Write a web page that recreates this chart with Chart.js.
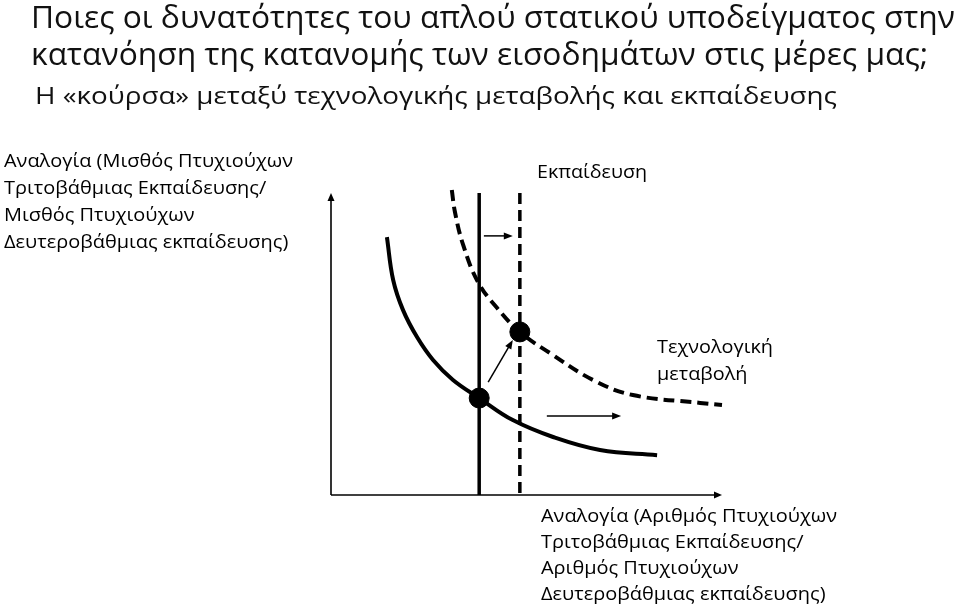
<!DOCTYPE html>
<html lang="el">
<head>
<meta charset="utf-8">
<title>Τεχνολογική μεταβολή και εκπαίδευση</title>
<script src="https://cdn.jsdelivr.net/npm/chart.js@4.4.1/dist/chart.umd.min.js"></script>
<style>
  html, body { margin: 0; padding: 0; background: #fff; }
  #wrap { width: 960px; height: 610px; position: relative; }
</style>
</head>
<body>
<div id="wrap"><canvas id="race" width="960" height="610"></canvas></div>
<script>
// --- texts ---
const TITLE_LINES = [
  'Ποιες οι δυνατότητες του απλού στατικού υποδείγματος στην',
  'κατανόηση της κατανομής των εισοδημάτων στις μέρες μας;'
];
const SUBTITLE = 'Η «κούρσα» μεταξύ τεχνολογικής μεταβολής και εκπαίδευσης';
const Y_LABEL = [
  'Αναλογία (Μισθός Πτυχιούχων',
  'Τριτοβάθμιας Εκπαίδευσης/',
  'Μισθός Πτυχιούχων',
  'Δευτεροβάθμιας εκπαίδευσης)'
];
const X_LABEL = [
  'Αναλογία (Αριθμός Πτυχιούχων',
  'Τριτοβάθμιας Εκπαίδευσης/',
  'Αριθμός Πτυχιούχων',
  'Δευτεροβάθμιας εκπαίδευσης)'
];
const SUPPLY_LABEL = ['Εκπαίδευση'];
const TECH_LABEL = ['Τεχνολογική', 'μεταβολή'];

// --- data (axis units 0..100) ---
const demandX     = [14.3, 15.9, 18.4, 22.0, 26.1, 31.2, 37.9, 46.5, 56.8, 68.8, 83.4];
const demandY     = [85.4, 71.2, 61.3, 52.3, 44.7, 38.1, 32.1, 24.8, 19.2, 14.9, 13.2];
const demandNewX  = [30.9, 31.7, 33.8, 37.6, 42.5, 48.3, 56.0, 67.0, 77.2, 94.4, 100];
const demandNewY  = [101, 93.7, 82.8, 70.5, 61.9, 54.0, 47.0, 38.1, 33.1, 30.5, 29.8];
const supplyX     = 37.9;
const supplyY     = [0, 100];
const supplyNewX  = 48.3;
const supplyNewY  = [0.7, 101.3];
const eqX         = [37.9, 48.3];
const eqY         = [32.1, 54.0];
// shift arrows: [x1, y1, x2, y2]
const shiftArrows = [
  [39.1, 85.8, 46.5, 85.8],
  [40.2, 37.4, 46.5, 51.3],
  [55.2, 26.2, 74.2, 26.2]
];

const pts = (xs, ys) => xs.map((x, i) => ({ x, y: ys[i] }));
const vline = (x, ys) => ys.map(y => ({ x, y }));

function arrowHead(ctx, x1, y1, x2, y2, len, half) {
  const a = Math.atan2(y2 - y1, x2 - x1);
  ctx.beginPath();
  ctx.moveTo(x2, y2);
  ctx.lineTo(x2 - len * Math.cos(a) + half * Math.sin(a), y2 - len * Math.sin(a) - half * Math.cos(a));
  ctx.lineTo(x2 - len * Math.cos(a) - half * Math.sin(a), y2 - len * Math.sin(a) + half * Math.cos(a));
  ctx.closePath();
  ctx.fill();
}

function arrow(ctx, x1, y1, x2, y2, width, len, half) {
  const a = Math.atan2(y2 - y1, x2 - x1);
  ctx.lineWidth = width;
  ctx.beginPath();
  ctx.moveTo(x1, y1);
  ctx.lineTo(x2 - (len - 1) * Math.cos(a), y2 - (len - 1) * Math.sin(a));
  ctx.stroke();
  arrowHead(ctx, x1, y1, x2, y2, len, half);
}

// text block squeezed horizontally to the width of the original
function fitText(ctx, lines, x, y0, step, size, width) {
  ctx.font = size + 'px "Open Sans", "Noto Sans", sans-serif';
  const w = Math.max(...lines.map(l => ctx.measureText(l).width));
  const k = width / w;
  lines.forEach((l, i) => {
    ctx.save();
    ctx.translate(x, y0 + i * step);
    ctx.scale(k, 1);
    ctx.fillText(l, 0, 0);
    ctx.restore();
  });
}

const diagramPlugin = {
  id: 'diagram',
  beforeDatasetsDraw(chart) {
    const { ctx, scales: { x, y } } = chart;
    ctx.save();
    ctx.strokeStyle = '#000';
    ctx.fillStyle = '#000';
    const x0 = x.getPixelForValue(0), y0 = y.getPixelForValue(0);
    arrow(ctx, x0, y0, x0, y.getPixelForValue(100), 1.6, 8, 3.5);
    arrow(ctx, x0, y0, x.getPixelForValue(100), y0, 1.6, 8, 3.5);
    ctx.restore();
  },
  afterDraw(chart) {
    const { ctx, scales: { x, y } } = chart;
    ctx.save();
    ctx.strokeStyle = '#000';
    ctx.fillStyle = '#000';
    shiftArrows.forEach(a => {
      arrow(ctx, x.getPixelForValue(a[0]), y.getPixelForValue(a[1]),
                 x.getPixelForValue(a[2]), y.getPixelForValue(a[3]), 1.5, 9, 3.5);
    });

    ctx.textBaseline = 'alphabetic';
    ctx.fillStyle = '#111';
    fitText(ctx, TITLE_LINES, 31, 28, 37, 31, 924);
    fitText(ctx, [SUBTITLE], 35, 104, 0, 23, 802);
    ctx.fillStyle = '#000';
    fitText(ctx, Y_LABEL, 4, 167, 27, 18, 289);
    fitText(ctx, SUPPLY_LABEL, 537, 178, 0, 18, 110);
    fitText(ctx, TECH_LABEL, 657, 353, 27, 18, 116);
    fitText(ctx, X_LABEL, 541, 522, 26, 18, 296);
    ctx.restore();
  }
};

new Chart(document.getElementById('race'), {
  type: 'scatter',
  data: {
    datasets: [
      { data: pts(eqX, eqY), pointRadius: 10, pointHoverRadius: 10,
        backgroundColor: '#000', borderColor: '#000', showLine: false, clip: false, order: 0 },
      { data: pts(demandX, demandY), showLine: true, borderColor: '#000', borderWidth: 4,
        pointRadius: 0, tension: 0.4, clip: false, order: 1 },
      { data: pts(demandNewX, demandNewY), showLine: true, borderColor: '#000', borderWidth: 4,
        borderDash: [11, 6], pointRadius: 0, tension: 0.4, clip: false, order: 1 },
      { data: vline(supplyX, supplyY), showLine: true, borderColor: '#000', borderWidth: 3.5,
        pointRadius: 0, clip: false, order: 1 },
      { data: vline(supplyNewX, supplyNewY), showLine: true, borderColor: '#000', borderWidth: 3.5,
        borderDash: [11, 6], pointRadius: 0, clip: false, order: 1 }
    ]
  },
  options: {
    responsive: false,
    animation: false,
    devicePixelRatio: 1,
    layout: { padding: { left: 331, right: 238, top: 193, bottom: 115 } },
    plugins: { legend: { display: false }, tooltip: { enabled: false }, title: { display: false } },
    scales: {
      x: { type: 'linear', min: 0, max: 100, display: false },
      y: { type: 'linear', min: 0, max: 100, display: false }
    }
  },
  plugins: [diagramPlugin]
});
</script>
</body>
</html>
